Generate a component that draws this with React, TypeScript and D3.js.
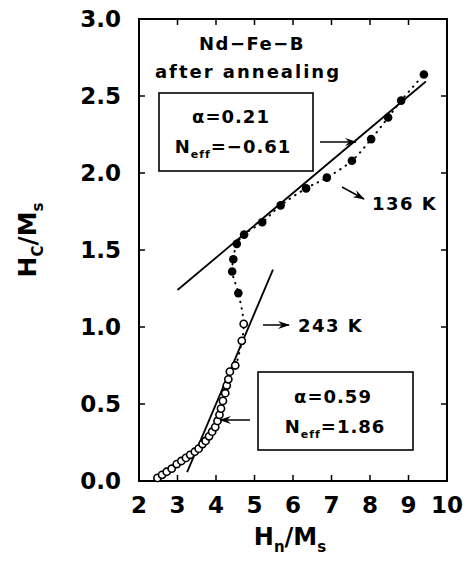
import React from "react";
import * as d3 from "d3";

const W = 467;
const H = 568;

// lower branch (open circles): [Hn/Ms, Hc/Ms]
const openX = [2.48, 2.6, 2.72, 2.85, 2.98, 3.1, 3.22, 3.33, 3.45, 3.55, 3.65, 3.73, 3.82, 3.9, 3.98, 4.04, 4.09, 4.13, 4.18, 4.24, 4.28, 4.32, 4.36, 4.5, 4.67, 4.72];
const openY = [0.02, 0.04, 0.06, 0.08, 0.11, 0.13, 0.15, 0.17, 0.19, 0.21, 0.24, 0.26, 0.29, 0.32, 0.35, 0.39, 0.43, 0.47, 0.52, 0.57, 0.62, 0.66, 0.71, 0.75, 0.91, 1.02];
// upper branch (filled circles)
const filledX = [4.58, 4.42, 4.45, 4.54, 4.73, 5.2, 5.68, 6.34, 6.88, 7.53, 8.03, 8.47, 8.81, 9.4];
const filledY = [1.22, 1.36, 1.44, 1.54, 1.6, 1.68, 1.79, 1.9, 1.97, 2.08, 2.22, 2.36, 2.47, 2.64];

// fits: Hc/Ms = alpha * Hn/Ms - Neff
const fitAlpha = [0.21, 0.59];
const fitNeff = [-0.61, 1.86];
const fitRange = [[3.0, 9.45], [3.25, 5.48]];

const xTicks = [2, 3, 4, 5, 6, 7, 8, 9, 10];
const yTicks = [0.0, 0.5, 1.0, 1.5, 2.0, 2.5, 3.0];

const FONT = "DejaVu Sans";

export default function App() {
  const x = d3.scaleLinear().domain([2, 10]).range([139, 447]);
  const y = d3.scaleLinear().domain([0, 3]).range([481, 19]);

  const allPts: [number, number][] = [
    ...openX.map((v, i) => [v, openY[i]] as [number, number]),
    ...filledX.map((v, i) => [v, filledY[i]] as [number, number]),
  ];
  const dotted = d3
    .line<[number, number]>()
    .x((d) => x(d[0]))
    .y((d) => y(d[1]))
    .curve(d3.curveCatmullRom)(allPts) as string;

  const fits = fitAlpha.map((a, i) => {
    const [x0, x1] = fitRange[i];
    return { x1: x(x0), y1: y(a * x0 - fitNeff[i]), x2: x(x1), y2: y(a * x1 - fitNeff[i]) };
  });

  const [x0, x1] = x.range();
  const [yb, yt] = y.range();
  const tl = 6;

  const txt = { fontFamily: FONT, fontWeight: "bold" as const, fill: "#000" };

  return (
    <svg width={W} height={H} style={{ position: "absolute", left: 0, top: 0, background: "#fff" }}>
      <defs>
        <marker id="ah" viewBox="0 0 12 8" refX="11" refY="4" markerWidth="12" markerHeight="8" markerUnits="userSpaceOnUse" orient="auto">
          <path d="M0,0 L12,4 L0,8 L4,4 z" fill="#000" />
        </marker>
      </defs>
      <rect x={0} y={0} width={W} height={H} fill="#fff" />

      {/* frame */}
      <rect x={x0} y={yt} width={x1 - x0} height={yb - yt} fill="none" stroke="#000" strokeWidth={2} />
      {xTicks.slice(1, -1).map((t) => (
        <g key={"xt" + t}>
          <line x1={x(t)} x2={x(t)} y1={yb} y2={yb - tl} stroke="#000" strokeWidth={1.5} />
          <line x1={x(t)} x2={x(t)} y1={yt} y2={yt + tl} stroke="#000" strokeWidth={1.5} />
        </g>
      ))}
      {yTicks.slice(1, -1).map((t) => (
        <g key={"yt" + t}>
          <line x1={x0} x2={x0 + tl} y1={y(t)} y2={y(t)} stroke="#000" strokeWidth={1.5} />
          <line x1={x1} x2={x1 - tl} y1={y(t)} y2={y(t)} stroke="#000" strokeWidth={1.5} />
        </g>
      ))}
      {xTicks.map((t) => (
        <text key={"xl" + t} x={x(t)} y={513} textAnchor="middle" fontSize={23} {...txt}>
          {t}
        </text>
      ))}
      {yTicks.map((t) => (
        <text key={"yl" + t} x={121} y={y(t) + 8} textAnchor="end" fontSize={23} {...txt}>
          {t.toFixed(1)}
        </text>
      ))}

      {/* axis titles */}
      <text x={290} y={545} textAnchor="middle" fontSize={24} {...txt}>
        H<tspan fontSize={15} dy={7}>n</tspan>
        <tspan dy={-7}>/M</tspan>
        <tspan fontSize={15} dy={7}>s</tspan>
      </text>
      <text transform="translate(36,240) rotate(-90)" textAnchor="middle" fontSize={25} {...txt}>
        H<tspan fontSize={15} dy={7}>C</tspan>
        <tspan dy={-7}>/M</tspan>
        <tspan fontSize={15} dy={7}>s</tspan>
      </text>

      {/* dotted connecting curve */}
      <path d={dotted} fill="none" stroke="#000" strokeWidth={2} strokeDasharray="0.5 6" strokeLinecap="round" />

      {/* fit lines */}
      {fits.map((f, i) => (
        <line key={"f" + i} {...f} stroke="#000" strokeWidth={1.8} />
      ))}

      {/* points */}
      {openX.map((v, i) => (
        <circle key={"o" + i} cx={x(v)} cy={y(openY[i])} r={3.6} fill="#fff" stroke="#000" strokeWidth={1.6} />
      ))}
      {filledX.map((v, i) => (
        <circle key={"c" + i} cx={x(v)} cy={y(filledY[i])} r={4.3} fill="#000" />
      ))}

      {/* annotations */}
      <text x={252} y={50} textAnchor="middle" fontSize={18} letterSpacing={1.5} {...txt}>
        Nd−Fe−B
      </text>
      <text x={248} y={78} textAnchor="middle" fontSize={18} letterSpacing={2} {...txt}>
        after annealing
      </text>

      <rect x={159} y={93} width={154} height={78} fill="#fff" stroke="#000" strokeWidth={1.6} />
      <text x={231} y={123} textAnchor="middle" fontSize={18} letterSpacing={1} {...txt}>
        α=0.21
      </text>
      <text x={233} y={153} textAnchor="middle" fontSize={18} letterSpacing={1} {...txt}>
        N<tspan fontSize={11} dy={5}>eff</tspan>
        <tspan dy={-5}>=−0.61</tspan>
      </text>
      <line x1={320} y1={142} x2={356} y2={142} stroke="#000" strokeWidth={1.5} markerEnd="url(#ah)" />

      <line x1={342} y1={187} x2={364} y2={199} stroke="#000" strokeWidth={1.5} markerEnd="url(#ah)" />
      <text x={372} y={210} fontSize={18} letterSpacing={1.5} {...txt}>
        136 K
      </text>

      <line x1={263} y1={325} x2={289} y2={325} stroke="#000" strokeWidth={1.5} markerEnd="url(#ah)" />
      <text x={298} y={332} fontSize={18} letterSpacing={1.5} {...txt}>
        243 K
      </text>

      <rect x={258} y={372} width={155} height={78} fill="#fff" stroke="#000" strokeWidth={1.6} />
      <text x={333} y={403} textAnchor="middle" fontSize={18} letterSpacing={1} {...txt}>
        α=0.59
      </text>
      <text x={335} y={433} textAnchor="middle" fontSize={18} letterSpacing={1} {...txt}>
        N<tspan fontSize={11} dy={5}>eff</tspan>
        <tspan dy={-5}>=1.86</tspan>
      </text>
      <line x1={250} y1={420} x2={220} y2={420} stroke="#000" strokeWidth={1.5} markerEnd="url(#ah)" />
    </svg>
  );
}
